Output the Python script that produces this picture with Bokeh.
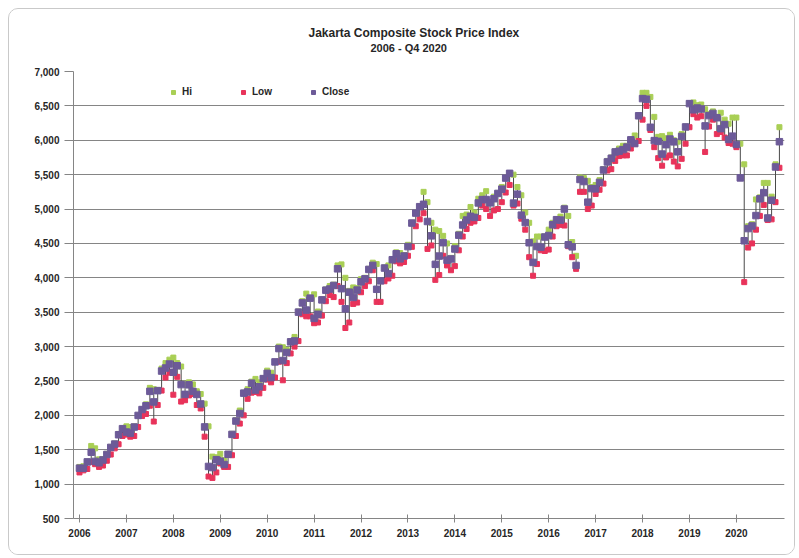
from bokeh.plotting import figure
from bokeh.models import (FixedTicker, NumeralTickFormatter, Range1d, Legend,
                          LegendItem, Title, ColumnDataSource)
from bokeh.embed import file_html
from bokeh.resources import INLINE

# ---- data (monthly, Jan 2006 .. Dec 2020) ----
years = [str(y) for y in range(2006, 2021)]

close = [
    1232, 1230, 1323, 1464, 1330, 1310, 1351, 1431, 1534, 1582, 1718, 1806,   # 2006
    1757, 1741, 1830, 1999, 2084, 2139, 2349, 2195, 2359, 2644, 2688, 2746,   # 2007
    2627, 2721, 2447, 2305, 2444, 2349, 2304, 2166, 1832, 1257, 1241, 1355,   # 2008
    1333, 1285, 1434, 1723, 1917, 2027, 2323, 2341, 2468, 2368, 2416, 2534,   # 2009
    2611, 2549, 2777, 2971, 2797, 2914, 3069, 3082, 3501, 3635, 3531, 3704,   # 2010
    3410, 3470, 3679, 3820, 3837, 3889, 4131, 3842, 3549, 3791, 3715, 3822,   # 2011
    3942, 3985, 4122, 4181, 3833, 3956, 4142, 4061, 4263, 4350, 4276, 4317,   # 2012
    4454, 4796, 4941, 5034, 5069, 4819, 4610, 4196, 4316, 4511, 4256, 4274,   # 2013
    4419, 4620, 4768, 4840, 4894, 4879, 5089, 5137, 5138, 5090, 5150, 5227,   # 2014
    5289, 5450, 5519, 5086, 5216, 4911, 4803, 4510, 4224, 4455, 4446, 4593,   # 2015
    4615, 4771, 4845, 4839, 5000, 4480, 4450, 4180, 5430, 5400, 5100, 5297,   # 2016
    5294, 5387, 5568, 5685, 5738, 5830, 5841, 5864, 5901, 6006, 5952, 6356,   # 2017
    6606, 6597, 6189, 5995, 5984, 5799, 5936, 6018, 5977, 5832, 6056, 6194,   # 2018
    6533, 6443, 6469, 6455, 6209, 6359, 6391, 6328, 6169, 6228, 6012, 6060,   # 2019
    5940, 5453, 4539, 4716, 4754, 4905, 5149, 5238, 4870, 5128, 5612, 5979,   # 2020
]

hi = [
    1250, 1260, 1330, 1555, 1520, 1360, 1365, 1440, 1540, 1590, 1730, 1810,
    1840, 1830, 1840, 2000, 2090, 2160, 2400, 2380, 2370, 2680, 2760, 2810,
    2840, 2760, 2710, 2460, 2480, 2450, 2350, 2310, 2170, 1840, 1400, 1390,
    1440, 1350, 1440, 1730, 1930, 2070, 2330, 2380, 2490, 2530, 2480, 2540,
    2650, 2620, 2780, 3000, 2990, 2950, 3080, 3140, 3510, 3660, 3770, 3710,
    3760, 3510, 3690, 3830, 3880, 3900, 4180, 4195, 4000, 3810, 3860, 3850,
    3980, 4000, 4130, 4220, 4200, 3960, 4150, 4180, 4270, 4370, 4360, 4330,
    4480, 4800, 4950, 5040, 5250, 5100, 4800, 4700, 4680, 4610, 4500, 4290,
    4460, 4640, 4900, 4920, 5030, 4950, 5150, 5200, 5260, 5110, 5180, 5230,
    5320, 5460, 5520, 5500, 5320, 5200, 4950, 4800, 4530, 4600, 4600, 4600,
    4700, 4800, 4850, 4890, 5020, 4900, 4520, 4320, 5460, 5450, 5410, 5320,
    5350, 5420, 5580, 5700, 5750, 5840, 5880, 5920, 5920, 6010, 6070, 6360,
    6690, 6690, 6630, 6340, 6050, 6060, 6030, 6080, 6000, 5980, 6090, 6200,
    6540, 6550, 6510, 6520, 6450, 6380, 6420, 6340, 6400, 6300, 6240, 6330,
    6330, 5950, 5650, 4750, 4780, 5140, 5170, 5380, 5380, 5180, 5650, 6190,
]

low = [
    1170, 1200, 1220, 1320, 1290, 1250, 1270, 1340, 1430, 1520, 1580, 1700,
    1720, 1690, 1700, 1830, 1990, 2020, 2140, 1910, 2150, 2360, 2550, 2620,
    2300, 2560, 2200, 2220, 2290, 2310, 2150, 2100, 1690, 1110, 1090, 1170,
    1300, 1250, 1250, 1420, 1700, 1880, 2000, 2240, 2330, 2340, 2320, 2400,
    2520, 2480, 2550, 2780, 2510, 2760, 2900, 3000, 3080, 3470, 3440, 3440,
    3340, 3350, 3450, 3660, 3750, 3720, 3880, 3650, 3270, 3350, 3620, 3640,
    3790, 3880, 3950, 4110, 3650, 3650, 3950, 3990, 4030, 4240, 4210, 4230,
    4320, 4450, 4750, 4850, 4940, 4420, 4470, 3970, 4040, 4320, 4180, 4110,
    4170, 4400, 4600, 4710, 4800, 4820, 4870, 5050, 5000, 4900, 4980, 5000,
    5100, 5240, 5350, 5050, 5080, 4860, 4700, 4300, 4030, 4200, 4400, 4390,
    4410, 4600, 4750, 4770, 4760, 4460, 4300, 4130, 5250, 5250, 5000, 5050,
    5220, 5280, 5370, 5560, 5580, 5700, 5770, 5780, 5780, 5880, 5950, 5990,
    6300, 6500, 6150, 5900, 5740, 5630, 5750, 5780, 5690, 5620, 5730, 5950,
    6190, 6380, 6330, 6350, 5830, 6200, 6300, 6090, 6120, 6040, 5960, 5950,
    5900, 5450, 3937, 4440, 4500, 4700, 4900, 5060, 4840, 4850, 5100, 5600,
]

y_ticks = list(range(500, 7001, 500))
title_lines = ["Jakarta Composite Stock Price Index", "2006 - Q4 2020"]

# ---- build ----
month = list(range(len(close)))
src = ColumnDataSource(dict(m=month, hi=hi, low=low, close=close))

TXT = "#262626"
FONT = "Liberation Sans"

p = figure(width=787, height=547, output_backend="svg", toolbar_location=None,
           x_range=Range1d(-1.53, 180.3), y_range=Range1d(500, 7000),
           min_border_left=64, min_border_right=12, min_border_top=62,
           min_border_bottom=38, background_fill_color="white",
           border_fill_color="white")
p.styles = {"margin-left": "8px", "margin-top": "8px",
            "border": "1px solid #c9c9c9", "border-radius": "10px",
            "overflow": "hidden"}

# first added = closest to the frame; a blank spacer keeps the title lines up
p.add_layout(Title(text=" ", text_font_size="1px", standoff=15), "above")
p.add_layout(Title(text=title_lines[1], align="left", offset=297,
                   text_font=FONT, text_font_size="11px",
                   text_font_style="bold", text_color=TXT, standoff=0),
             "above")
p.add_layout(Title(text=title_lines[0], align="left", offset=235,
                   text_font=FONT, text_font_size="12px",
                   text_font_style="bold", text_color=TXT, standoff=0),
             "above")

p.outline_line_color = None
p.xgrid.visible = False
p.ygrid.grid_line_color = "#858585"
p.ygrid.grid_line_width = 1
p.ygrid.ticker = FixedTicker(ticks=y_ticks)

p.yaxis.ticker = FixedTicker(ticks=y_ticks)
p.yaxis.formatter = NumeralTickFormatter(format="0,0")
p.yaxis.major_tick_out = 9
p.yaxis.major_tick_in = 0
p.yaxis.minor_tick_line_color = None
p.yaxis.axis_line_color = "#858585"
p.yaxis.major_tick_line_color = "#858585"
p.yaxis.major_label_text_font = FONT
p.yaxis.major_label_text_font_size = "10px"
p.yaxis.major_label_text_font_style = "bold"
p.yaxis.major_label_text_color = TXT
p.yaxis.major_label_standoff = 5

xt = [12 * i for i in range(len(years))]
p.xaxis.ticker = FixedTicker(ticks=xt)
p.xaxis.major_label_overrides = {t: y for t, y in zip(xt, years)}
p.xaxis.major_tick_out = 4
p.xaxis.major_tick_in = 4
p.xaxis.minor_tick_line_color = None
p.xaxis.axis_line_color = "#858585"
p.xaxis.major_tick_line_color = "#858585"
p.xaxis.major_label_text_font = FONT
p.xaxis.major_label_text_font_size = "10px"
p.xaxis.major_label_text_font_style = "bold"
p.xaxis.major_label_text_color = TXT
p.xaxis.major_label_standoff = 6

p.segment(x0="m", y0="low", x1="m", y1="hi", source=src,
          line_color="#4a4a4a", line_width=1)
r_hi = p.scatter("m", "hi", source=src, marker="square", size=5,
                 fill_color="#a9cf55", line_color="#a9cf55")
r_lo = p.scatter("m", "low", source=src, marker="square", size=5,
                 fill_color="#e8335a", line_color="#e8335a")
r_cl = p.scatter("m", "close", source=src, marker="square", size=6.5,
                 fill_color="#6c5a98", line_color="#6c5a98")

legend = Legend(items=[LegendItem(label="Hi", renderers=[r_hi]),
                       LegendItem(label="Low", renderers=[r_lo]),
                       LegendItem(label="Close", renderers=[r_cl])],
                location=(95, 421), orientation="horizontal",
                border_line_color=None, background_fill_alpha=0,
                glyph_width=10, glyph_height=10, label_standoff=4,
                label_width=56, spacing=0, padding=0, margin=0,
                label_text_font=FONT, label_text_font_size="10px",
                label_text_font_style="bold", label_text_color=TXT)
p.add_layout(legend)

open("out.html", "w").write(file_html(p, INLINE))
